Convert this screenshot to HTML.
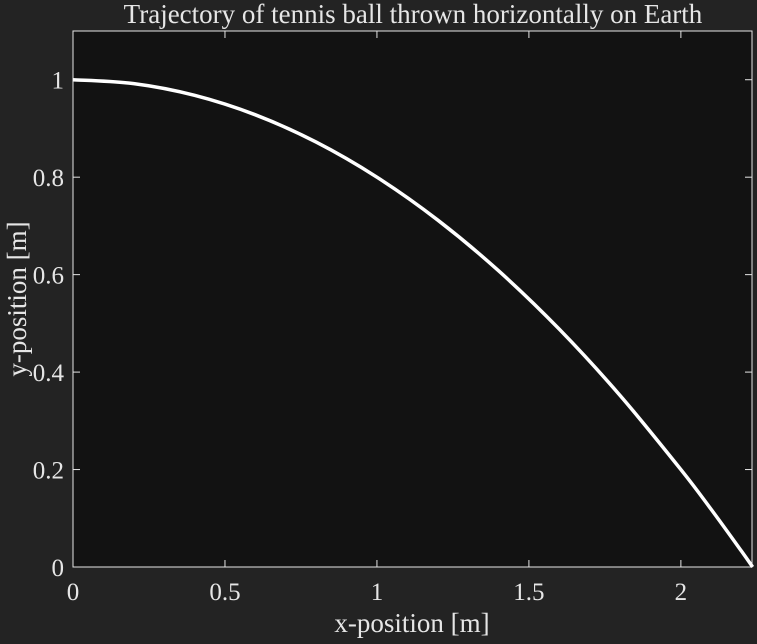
<!DOCTYPE html>
<html><head><meta charset="utf-8"><style>
body{margin:0;background:#232323;}
svg text{font-family:"Liberation Serif",serif;fill:#e6e6e6;}
</style></head><body>
<svg width="757" height="639" id="c">
<rect width="757" height="639" fill="#232323"/>
<rect x="73" y="31" width="679" height="536" fill="#121212" stroke="#e6e6e6" stroke-width="1"/>
<text x="413" y="23" font-size="27" text-anchor="middle">Trajectory of tennis ball thrown horizontally on Earth</text>
<text x="412" y="632" font-size="27" text-anchor="middle">x-position [m]</text>
<text transform="translate(26,299) rotate(-90)" font-size="27" text-anchor="middle">y-position [m]</text>
<g id="ticks"></g>
<path id="curve" fill="none" stroke="#fff" stroke-width="3.5"/>
</svg>
<script>
const xTicks=[0,0.5,1,1.5,2];
const yTicks=[0,0.2,0.4,0.6,0.8,1];
const xVals=[0,0.2,0.4,0.6,0.8,1.0,1.2,1.4,1.6,1.8,2.0,2.1,2.2,2.236];
const yVals=[1,0.992,0.968,0.928,0.872,0.8,0.712,0.608,0.488,0.352,0.2,0.118,0.032,0];
const X0=73,X1=752,Y0=567,Y1=31,xMax=2.234,yMax=1.1;
const sx=v=>X0+v/xMax*(X1-X0), sy=v=>Y0-v/yMax*(Y0-Y1);
const ns="http://www.w3.org/2000/svg", g=document.getElementById('ticks');
function mk(t,a){const e=document.createElementNS(ns,t);for(const k in a)e.setAttribute(k,a[k]);g.appendChild(e);return e;}
xTicks.forEach(v=>{const x=sx(v);
 let l=mk('line',{x1:x,x2:x,y1:Y0,y2:Y0-7,stroke:'#e6e6e6'});
 
 
 l=mk('line',{x1:x,x2:x,y1:Y1,y2:Y1+7,stroke:'#e6e6e6'});
 
 
 const t=mk('text',{x:x,y:600,'font-size':25,'text-anchor':'middle'});t.textContent=String(v);
 
 });
yTicks.forEach(v=>{const y=sy(v);
 let l=mk('line',{x1:X0,x2:X0+7,y1:y,y2:y,stroke:'#e6e6e6'});
 
 
 l=mk('line',{x1:X1,x2:X1-7,y1:y,y2:y,stroke:'#e6e6e6'});
 
 
 const t=mk('text',{x:64,y:y+9,'font-size':25,'text-anchor':'end'});t.textContent=String(v);
 
 });
const P=xVals.map((x,i)=>[sx(x),sy(yVals[i])]);
let d='M'+P[0][0]+','+P[0][1];
for(let i=0;i<P.length-1;i++){const p0=P[Math.max(i-1,0)],p1=P[i],p2=P[i+1],p3=P[Math.min(i+2,P.length-1)];
 d+=' C'+(p1[0]+(p2[0]-p0[0])/6)+','+(p1[1]+(p2[1]-p0[1])/6)+' '+(p2[0]-(p3[0]-p1[0])/6)+','+(p2[1]-(p3[1]-p1[1])/6)+' '+p2[0]+','+p2[1];}
document.getElementById('curve').setAttribute('d',d);
</script>
</body></html>
